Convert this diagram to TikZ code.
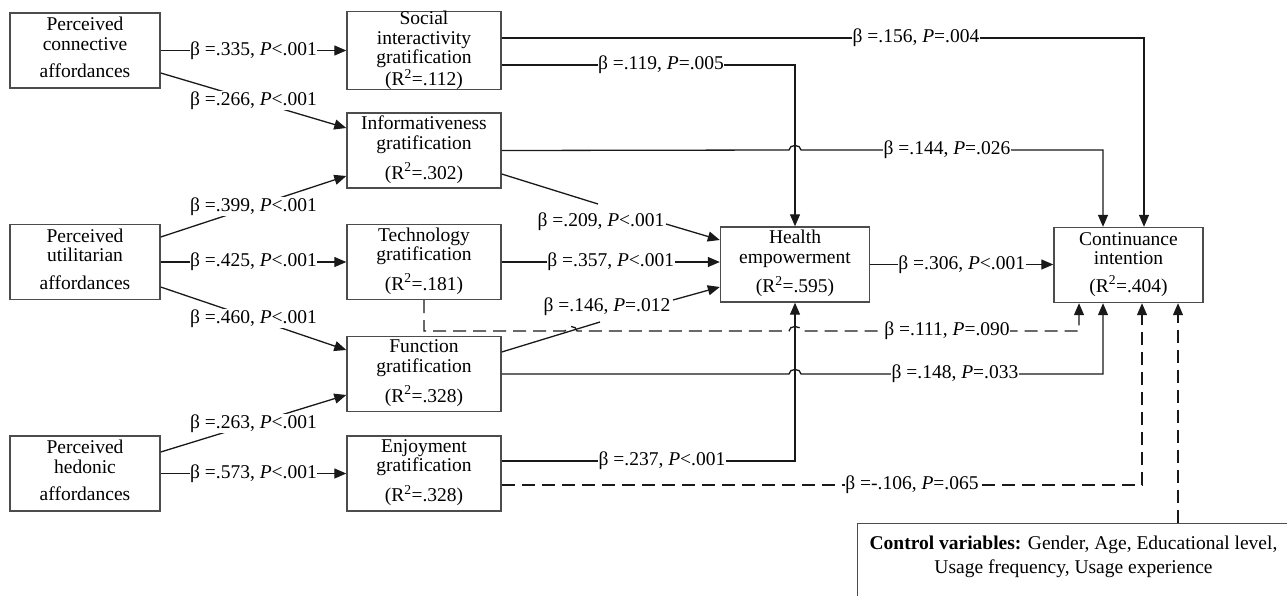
\documentclass[tikz,border=0pt]{standalone}
\usepackage{fontspec}
\setmainfont{Liberation Serif}
\usetikzlibrary{arrows.meta}
\newcommand{\fs}{\fontsize{19.5}{19.5}\selectfont}
\begin{document}
\begin{tikzpicture}[x=1pt,y=-1pt,
  box/.style={draw=black!70, line width=1.4pt, inner sep=0pt, align=center, font=\fs},
  lbox/.style={box, minimum width=150pt, minimum height=75pt},
  mbox/.style={box, minimum width=154pt, minimum height=75pt},
  rbox/.style={box, minimum width=149pt, minimum height=75pt},
  lab/.style={fill=white, inner sep=0.5pt, font=\fs},
  conn/.style={line width=1.3pt, draw=black!90},
  arr/.style={conn, -{Triangle[length=12pt,width=10pt]}},
  dsh/.style={dash pattern=on 13pt off 7pt}]
\useasboundingbox (0,0) rectangle (1287,595);
\clip (0,0) rectangle (1287,595);

% boxes
\node[lbox] (pc) at (85,50.5) {Perceived\\connective\\[8pt]affordances\strut};
\node[lbox] (pu) at (85,262) {Perceived\\utilitarian\\[8pt]affordances\strut};
\node[lbox] (ph) at (85,473.5) {Perceived\\hedonic\\[8pt]affordances\strut};
\node[mbox] (soc) at (424,50.5) {\fontsize{19.5}{17}\selectfont Social\\interactivity\\gratification\\(R\textsuperscript{2}=.112)};
\node[mbox] (inf) at (424,150.5) {Informativeness\\gratification\\[8pt](R\textsuperscript{2}=.302)\strut};
\node[mbox] (tech) at (424,262) {Technology\\gratification\\[8pt](R\textsuperscript{2}=.181)\strut};
\node[mbox] (fun) at (424,374) {Function\\gratification\\[8pt](R\textsuperscript{2}=.328)\strut};
\node[mbox] (enj) at (424,473.5) {Enjoyment\\gratification\\[8pt](R\textsuperscript{2}=.328)\strut};
\node[rbox] (he) at (795,264.5) {Health\\empowerment\\[8pt](R\textsuperscript{2}=.595)\strut};
\node[rbox] (ci) at (1128.5,265) {Continuance\\intention\\[8pt](R\textsuperscript{2}=.404)\strut};
\node[draw=black!70, line width=1.4pt, minimum width=433pt, minimum height=100pt, anchor=north west, inner sep=0pt] (ctrl) at (857,523) {};
\node[font=\fs, align=center, anchor=north, inner sep=0pt] (ctrltxt) at (1073.5,536) {\textbf{Control variables:} Gender, Age, Educational level,\\[4pt]Usage frequency, Usage experience};

% affordances -> gratifications
\draw[arr] (pc) -- node[lab]{β =.335, \textit{P}<.001} (soc);
\draw[arr] (pc.east |- 0,73) -- node[lab]{β =.266, \textit{P}<.001} (inf.west |- 0,128);
\draw[arr] (pu.east |- 0,237) -- node[lab]{β =.399, \textit{P}<.001} (inf.west |- 0,176);
\draw[arr] (pu) -- node[lab]{β =.425, \textit{P}<.001} (tech);
\draw[arr] (pu.east |- 0,287) -- node[lab]{β =.460, \textit{P}<.001} (fun.west |- 0,350);
\draw[arr] (ph.east |- 0,452) -- node[lab]{β =.263, \textit{P}<.001} (fun.west |- 0,395);
\draw[arr] (ph) -- node[lab]{β =.573, \textit{P}<.001} (enj);

% gratifications -> health empowerment
\draw[arr] (soc.east |- 0,65) -- (661,65) node[lab]{β =.119, \textit{P}=.005} -- (795,65) -- (he.north);
\draw[arr] (inf.east |- 0,174) -- (598,204) (601,222) node[lab] (l209) {β =.209, \textit{P}<.001} (666,224) -- (he.west |- 0,240);
\draw[arr] (tech.east) -- node[lab]{β =.357, \textit{P}<.001} (he.west |- tech.east);
\draw[arr] (fun.east |- 0,352) -- (600,322) (607,307) node[lab] (l146) {β =.146, \textit{P}=.012} (673,300) -- (he.west |- 0,287);
\draw[arr] (enj.east |- 0,461) -- (662,461) node[lab]{β =.237, \textit{P}<.001} -- (795,461) -- (he.south);

% -> continuance intention
\draw[arr] (he.east) -- node[lab]{β =.306, \textit{P}<.001} (ci.west |- he.east);
\draw[arr] (soc.east |- 0,38) -- (916,38) node[lab]{β =.156, \textit{P}=.004} -- (1144,38) -- (1144,0 |- ci.north);
\draw[arr] (inf.east) -- (789,150) .. controls (789,144) and (801,144) .. (801,150) -- (947,150) node[lab]{β =.144, \textit{P}=.026} -- (1103,150) -- (1103,0 |- ci.north);
\draw[arr,dsh] (tech.south) -- (424,331) -- (565,331) .. controls (565,325) and (577,325) .. (577,331) -- (789,331) .. controls (789,325) and (801,325) .. (801,331) -- (947,331) node[lab]{β =.111, \textit{P}=.090} -- (1079,331) -- (1079,0 |- ci.south);
\draw[arr] (fun.east) -- (789,374) .. controls (789,368) and (801,368) .. (801,374) -- (955,374) node[lab]{β =.148, \textit{P}=.033} -- (1103,374) -- (1103,0 |- ci.south);
\draw[arr,dsh] (enj.east |- 0,485) -- (912,485) node[lab]{β =-.106, \textit{P}=.065} -- (1142,485) -- (1142,0 |- ci.south);
\draw[arr,dsh] (1178,0 |- ctrl.north) -- (1178,0 |- ci.south);
\end{tikzpicture}
\end{document}
